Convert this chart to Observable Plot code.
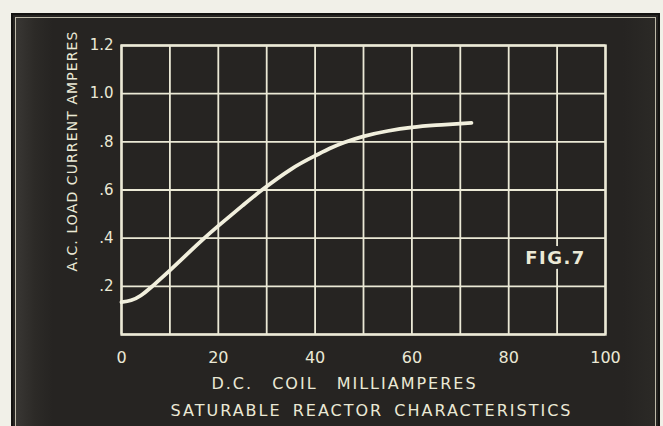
<!DOCTYPE html>
<html>
<head>
<meta charset="utf-8">
<script src="https://cdn.jsdelivr.net/npm/d3@7"></script>
<script src="https://cdn.jsdelivr.net/npm/@observablehq/plot@0.6"></script>
<style>
  html, body { margin: 0; padding: 0; background: #f1f0e8; }
  #wrap { position: relative; width: 663px; height: 426px; overflow: hidden; }
  #board {
    position: absolute; left: 11px; top: 13px; width: 645px; height: 420px;
    background: linear-gradient(to right, #3b3936 0px, #2c2a27 22px, #262422 40px, #262422 610px, #2b2926 640px);
    border: 2px solid #141311;
    box-shadow: inset 0 0 0 2px #262422, inset 0 0 0 3px #bdb9a8;
  }
  #chart { position: absolute; left: 0; top: 0; }
</style>
</head>
<body>
<div id="wrap"><div id="board"></div><div id="chart"></div></div>
<script>
// Data (D.C. coil mA vs A.C. load current A)
const dcMilliamps = [0, 2, 4, 6, 8, 10, 14, 17, 20, 25, 29, 35, 40, 43, 46, 50, 55, 60, 65, 70, 72.3];
const loadAmps    = [0.134, 0.142, 0.162, 0.194, 0.23, 0.266, 0.342, 0.398, 0.451, 0.535, 0.6, 0.686, 0.742, 0.772, 0.797, 0.823, 0.845, 0.86, 0.869, 0.876, 0.879];

const xTicks = [0, 20, 40, 60, 80, 100];
const xGrid = [0, 10, 20, 30, 40, 50, 60, 70, 80, 90, 100];
const yTicks = [0.2, 0.4, 0.6, 0.8, 1.0, 1.2];
const yTickLabels = [".2", ".4", ".6", ".8", "1.0", "1.2"];
const yGrid = [0, 0.2, 0.4, 0.6, 0.8, 1.0, 1.2];

const yLabel = "A.C. LOAD CURRENT AMPERES";
const xLabel = "D.C. COIL MILLIAMPERES";
const title = "SATURABLE REACTOR CHARACTERISTICS";
const figLabel = "FIG.7";

const cream = "#ebe9d6";
const bg = "#262422";

const data = dcMilliamps.map((x, i) => ({x, y: loadAmps[i]}));

const chart = Plot.plot({
  width: 663,
  height: 426,
  marginLeft: 121,
  marginRight: 58,
  marginTop: 45,
  marginBottom: 92,
  style: { background: "transparent", fontFamily: "'DejaVu Sans', sans-serif", color: cream },
  x: { domain: [0, 100] },
  y: { domain: [0, 1.2] },
  marks: [
    Plot.gridX(xGrid, { stroke: cream, strokeOpacity: 1, strokeWidth: 1.8 }),
    Plot.gridY(yGrid, { stroke: cream, strokeOpacity: 1, strokeWidth: 1.8 }),
    Plot.frame({ stroke: cream, strokeWidth: 2.4 }),
    Plot.axisX({ ticks: xTicks, tickSize: 0, tickPadding: 17, fontSize: 16, color: cream, label: null }),
    Plot.axisY({ ticks: yTicks, tickSize: 0, tickPadding: 8, fontSize: 15, color: cream, label: null,
                 tickFormat: d => yTickLabels[yTicks.indexOf(d)] }),
    Plot.line(data, { x: "x", y: "y", stroke: "#f1efdd", strokeWidth: 3.8, curve: "natural" }),
    Plot.text([figLabel], { frameAnchor: "bottom-right", dx: -50, dy: -71, textAnchor: "middle",
                            fontSize: 18, fontWeight: "bold", fill: cream, stroke: bg, strokeWidth: 10 }),
    Plot.text([yLabel], { frameAnchor: "left", rotate: -90, dx: -49, dy: -39, textAnchor: "middle",
                          fontSize: 14, fill: cream }),
    Plot.text([xLabel], { frameAnchor: "bottom", dx: -19, dy: 54, textAnchor: "middle",
                          fontSize: 16, fill: cream }),
    Plot.text([title], { frameAnchor: "bottom", dx: 8, dy: 81, textAnchor: "middle",
                         fontSize: 16, fill: cream })
  ]
});

const svg = d3.select(chart);
svg.selectAll("text").filter(function() { return this.textContent === yLabel; })
  .style("letter-spacing", "1.1px");
svg.selectAll("text").filter(function() { return this.textContent === xLabel; })
  .style("letter-spacing", "2px").style("word-spacing", "12px");
svg.selectAll("text").filter(function() { return this.textContent === title; })
  .style("letter-spacing", "2px").style("word-spacing", "4px");
svg.selectAll("text").filter(function() { return this.textContent === figLabel; })
  .style("letter-spacing", "1.5px").attr("paint-order", "stroke");

document.getElementById("chart").append(chart);
</script>
</body>
</html>
